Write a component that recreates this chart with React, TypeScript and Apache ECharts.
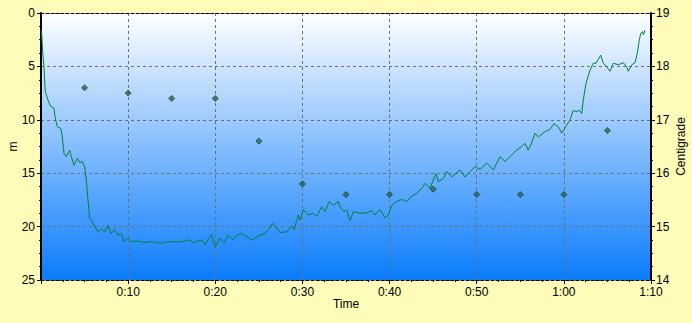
import React, { useEffect, useRef } from "react";
import * as echarts from "echarts";

// Temperature trace (minutes, °C)
const tempTime: number[] = [
  0.06, 0.2, 0.34, 0.49, 0.8, 1.11, 1.49, 1.64, 1.87, 2.26, 2.41, 2.64, 2.9, 3.29, 3.48, 3.79, 4.17, 4.44, 4.74, 5.01,
  5.2, 5.39, 5.59, 5.77, 6.16, 6.54, 6.92, 7.31, 7.69, 8.0, 8.46, 8.84, 9.22, 9.52, 9.98, 10.36, 11.13, 11.9, 12.51, 13.66,
  14.8, 15.95, 16.9, 17.48, 18.44, 18.82, 19.59, 19.97, 20.54, 21.0, 21.49, 22.07, 22.46, 23.03, 23.61, 24.18, 24.56, 25.13, 25.71, 26.08,
  26.59, 27.43, 28.2, 28.77, 29.03, 29.53, 29.72, 30.1, 30.67, 31.25, 31.64, 32.21, 32.59, 33.08, 33.54, 34.12, 34.31, 34.77, 35.08, 35.46,
  35.84, 36.61, 37.38, 37.95, 38.33, 38.9, 39.48, 39.86, 40.25, 40.82, 41.39, 41.97, 42.54, 43.11, 43.69, 44.07, 44.64, 45.33, 45.59, 46.17,
  46.56, 47.13, 48.08, 48.66, 49.23, 49.81, 50.38, 51.15, 51.91, 52.67, 53.25, 54.02, 54.59, 55.16, 55.54, 55.92, 56.31, 56.69, 57.07, 57.84,
  58.41, 58.87, 59.36, 59.75, 60.33, 60.71, 61.09, 61.4, 61.77, 62.05, 62.23, 62.54, 63.0, 63.38, 63.69, 64.23, 64.53, 64.92, 65.3, 65.68,
  66.25, 66.82, 67.21, 67.4, 67.79, 68.17, 68.43, 68.66, 68.82, 69.05, 69.12, 69.31,
];
const tempValue: number[] = [
  18.68, 18.25, 17.99, 17.53, 17.37, 17.25, 17.22, 17.03, 16.87, 16.84, 16.72, 16.37, 16.31, 16.43, 16.31, 16.15, 16.28, 16.2, 16.22, 16.12,
  15.87, 15.5, 15.16, 15.12, 15.0, 14.9, 14.95, 14.9, 15.03, 14.87, 14.94, 14.84, 14.87, 14.72, 14.78, 14.72, 14.73, 14.7, 14.72, 14.69,
  14.72, 14.71, 14.75, 14.7, 14.75, 14.66, 14.86, 14.62, 14.78, 14.7, 14.84, 14.75, 14.84, 14.87, 14.81, 14.75, 14.78, 14.84, 14.87, 14.94,
  15.06, 14.89, 14.9, 15.01, 14.94, 15.22, 15.12, 15.32, 15.22, 15.25, 15.19, 15.37, 15.28, 15.47, 15.4, 15.47, 15.37, 15.28, 15.31, 15.11,
  15.28, 15.25, 15.26, 15.3, 15.22, 15.32, 15.16, 15.22, 15.4, 15.47, 15.51, 15.47, 15.57, 15.62, 15.72, 15.81, 15.72, 15.99, 15.84, 15.9,
  16.03, 15.93, 16.06, 15.93, 16.03, 16.12, 16.07, 16.19, 16.06, 16.31, 16.22, 16.34, 16.43, 16.5, 16.56, 16.43, 16.57, 16.75, 16.68, 16.78,
  16.82, 16.93, 16.87, 16.75, 16.9, 17.0, 17.18, 17.15, 17.18, 17.12, 17.37, 17.68, 17.93, 18.06, 18.06, 18.21, 18.06, 17.99, 17.91, 18.06,
  18.03, 18.07, 17.99, 17.91, 18.03, 18.07, 18.25, 18.49, 18.62, 18.65, 18.59, 18.68,
];

// Depth samples (minutes, m)
const depthTime: number[] = [5, 10, 15, 20, 25, 30, 35, 40, 45, 50, 55, 60, 65];
const depthValue: number[] = [7, 7.5, 8, 8, 12, 16, 17, 17, 16.5, 17, 17, 17, 11];

const FONT = "'Liberation Sans Narrow', 'Liberation Sans', Arial, sans-serif";

function fmtTime(v: number): string {
  if (v === 0) return "";
  const h = Math.floor(v / 60);
  const m = Math.round(v % 60);
  return `${h}:${m < 10 ? "0" + m : m}`;
}

export default function App() {
  const ref = useRef<HTMLDivElement>(null);
  useEffect(() => {
    if (!ref.current) return;
    const chart = echarts.init(ref.current, undefined, { renderer: "svg" });
    const tempData = tempTime.map((t, i) => [t, tempValue[i]]);
    const depthData = depthTime.map((t, i) => [t, depthValue[i]]);
    const gridDash = { color: "#707070", type: [3, 3], width: 1 };
    chart.setOption({
      animation: false,
      backgroundColor: "#FFFCBA",
      grid: {
        left: 41,
        right: 41,
        top: 13,
        bottom: 43,
        containLabel: false,
        outerBoundsMode: "none",
        show: true,
        borderWidth: 0,
        backgroundColor: new echarts.graphic.LinearGradient(0, 0, 0, 1, [
          { offset: 0, color: "#FFFFFF" },
          { offset: 1, color: "#0A7CFC" },
        ]),
      },
      xAxis: [
        {
          type: "value",
          min: 0,
          max: 70,
          interval: 10,
          name: "Time",
          nameLocation: "middle",
          nameGap: 18,
          nameMoveOverlap: false,
          nameTextStyle: { fontFamily: FONT, fontSize: 12, color: "#000" },
          axisLine: { show: true, onZero: false, lineStyle: { color: "#000", type: [3, 2], width: 1 } },
          axisTick: { show: true, length: 4, lineStyle: { color: "#000" } },
          minorTick: { show: true, splitNumber: 4, length: 2, lineStyle: { color: "#000" } },
          axisLabel: { formatter: fmtTime, fontFamily: FONT, fontSize: 12, color: "#000", margin: 6 },
          splitLine: { show: true, lineStyle: gridDash },
        },
        {
          type: "value",
          position: "top",
          min: 0,
          max: 70,
          axisLine: { show: true, onZero: false, lineStyle: { color: "#000", type: [3, 2], width: 1 } },
          axisTick: { show: false },
          axisLabel: { show: false },
          splitLine: { show: false },
        },
      ],
      yAxis: [
        {
          type: "value",
          inverse: true,
          min: 0,
          max: 25,
          interval: 5,
          position: "left",
          name: "m",
          nameLocation: "middle",
          nameRotate: 90,
          nameGap: 22,
          nameMoveOverlap: false,
          nameTextStyle: { fontFamily: FONT, fontSize: 12, color: "#000" },
          axisLine: { show: true, onZero: false, lineStyle: { color: "#000", width: 2 } },
          axisTick: { show: true, length: 4, lineStyle: { color: "#000" } },
          minorTick: { show: true, splitNumber: 4, length: 2, lineStyle: { color: "#000" } },
          axisLabel: { fontFamily: FONT, fontSize: 12, color: "#000", margin: 6 },
          splitLine: { show: true, lineStyle: gridDash },
        },
        {
          type: "value",
          min: 14,
          max: 19,
          interval: 1,
          position: "right",
          name: "Centigrade",
          nameLocation: "middle",
          nameRotate: 90,
          nameGap: 24,
          nameMoveOverlap: false,
          nameTextStyle: { fontFamily: FONT, fontSize: 12, color: "#000" },
          axisLine: { show: true, onZero: false, lineStyle: { color: "#000", width: 2 } },
          axisTick: { show: true, length: 4, lineStyle: { color: "#000" } },
          minorTick: { show: true, splitNumber: 4, length: 2, lineStyle: { color: "#000" } },
          axisLabel: { fontFamily: FONT, fontSize: 12, color: "#000", margin: 5 },
          splitLine: { show: false },
        },
      ],
      series: [
        {
          type: "line",
          xAxisIndex: 0,
          yAxisIndex: 1,
          data: tempData,
          showSymbol: false,
          symbol: "none",
          lineStyle: { color: "#00803C", width: 1 },
          z: 3,
        },
        {
          type: "scatter",
          xAxisIndex: 0,
          yAxisIndex: 0,
          data: depthData,
          symbol: "diamond",
          symbolSize: 6,
          itemStyle: { color: "#2A6A48", borderColor: "#0A2A1A", borderWidth: 0.8 },
          z: 4,
        },
      ],
    });
    return () => chart.dispose();
  }, []);
  return (
    <div
      ref={ref}
      style={{ position: "absolute", left: 0, top: 0, width: 692, height: 323 }}
    />
  );
}
